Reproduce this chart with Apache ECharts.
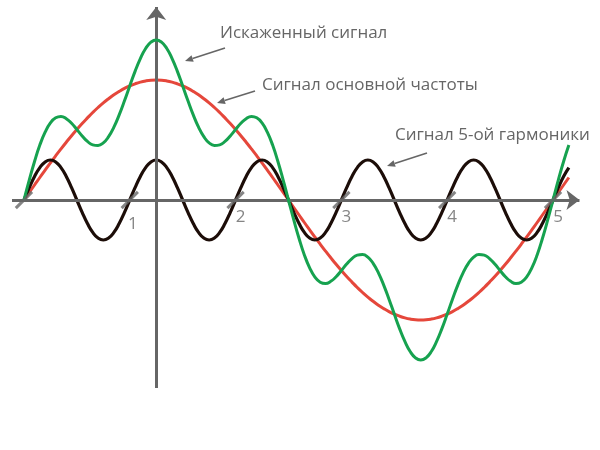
<!DOCTYPE html>
<html>
<head>
<meta charset="utf-8">
<script src="https://cdn.jsdelivr.net/npm/echarts@6/dist/echarts.min.js"></script>
<style>html,body{margin:0;padding:0;background:#fff;}#chart{width:600px;height:450px;}</style>
</head>
<body>
<div id="chart"></div>
<script>
// sample positions along the horizontal axis (units of the 5th-harmonic period)
const xs = [0,0.05,0.1,0.15,0.2,0.25,0.3,0.35,0.4,0.45,0.5,0.55,0.6,0.65,0.7,0.75,0.8,0.85,0.9,0.95,1,1.05,1.1,1.15,1.2,1.25,1.3,1.35,1.4,1.45,1.5,1.55,1.6,1.65,1.7,1.75,1.8,1.85,1.9,1.95,2,2.05,2.1,2.15,2.2,2.25,2.3,2.35,2.4,2.45,2.5,2.55,2.6,2.65,2.7,2.75,2.8,2.85,2.9,2.95,3,3.05,3.1,3.15,3.2,3.25,3.3,3.35,3.4,3.45,3.5,3.55,3.6,3.65,3.7,3.75,3.8,3.85,3.9,3.95,4,4.05,4.1,4.15,4.2,4.25,4.3,4.35,4.4,4.45,4.5,4.55,4.6,4.65,4.7,4.75,4.8,4.85,4.9,4.95,5,5.05,5.1,5.15];
// fundamental (red)
const fundamental = [0,0.075,0.150,0.225,0.298,0.371,0.442,0.511,0.578,0.643,0.705,0.765,0.821,0.875,0.925,0.971,1.013,1.052,1.086,1.116,1.141,1.162,1.179,1.191,1.198,1.200,
1.198,1.191,1.179,1.162,1.141,1.116,1.086,1.052,1.013,0.971,0.925,0.875,0.821,0.765,0.705,0.643,0.578,0.511,0.442,0.371,0.298,0.225,0.150,0.075,0,
-0.075,-0.150,-0.225,-0.298,-0.371,-0.442,-0.511,-0.578,-0.643,-0.705,-0.765,-0.821,-0.875,-0.925,-0.971,-1.013,-1.052,-1.086,-1.116,-1.141,-1.162,-1.179,-1.191,-1.198,-1.200,
-1.198,-1.191,-1.179,-1.162,-1.141,-1.116,-1.086,-1.052,-1.013,-0.971,-0.925,-0.875,-0.821,-0.765,-0.705,-0.643,-0.578,-0.511,-0.442,-0.371,-0.298,-0.225,-0.150,-0.075,0,
0.075,0.150,0.225];
// 5th harmonic (black)
const harmonic5 = [0,0.124,0.235,0.324,0.380,0.400,0.380,0.324,0.235,0.124,0,-0.124,-0.235,-0.324,-0.380,-0.400,-0.380,-0.324,-0.235,-0.124,
0,0.124,0.235,0.324,0.380,0.400,0.380,0.324,0.235,0.124,0,-0.124,-0.235,-0.324,-0.380,-0.400,-0.380,-0.324,-0.235,-0.124,
0,0.124,0.235,0.324,0.380,0.400,0.380,0.324,0.235,0.124,0,-0.124,-0.235,-0.324,-0.380,-0.400,-0.380,-0.324,-0.235,-0.124,
0,0.124,0.235,0.324,0.380,0.400,0.380,0.324,0.235,0.124,0,-0.124,-0.235,-0.324,-0.380,-0.400,-0.380,-0.324,-0.235,-0.124,
0,0.124,0.235,0.324,0.380,0.400,0.380,0.324,0.235,0.124,0,-0.124,-0.235,-0.324,-0.380,-0.400,-0.380,-0.324,-0.235,-0.124,
0,0.124,0.235,0.324];
// distorted signal (green)
const distorted = [0,0.199,0.385,0.549,0.678,0.771,0.822,0.835,0.813,0.767,0.705,0.641,0.586,0.551,0.545,0.571,0.633,0.728,0.851,0.992,1.141,1.286,1.414,1.515,1.578,1.600,
1.578,1.515,1.414,1.286,1.141,0.992,0.851,0.728,0.633,0.571,0.545,0.551,0.586,0.641,0.705,0.767,0.813,0.835,0.822,0.771,0.678,0.549,0.385,0.199,0,
-0.199,-0.385,-0.549,-0.678,-0.771,-0.822,-0.835,-0.813,-0.767,-0.705,-0.641,-0.586,-0.551,-0.545,-0.571,-0.633,-0.728,-0.851,-0.992,-1.141,-1.286,-1.414,-1.515,-1.578,-1.600,
-1.578,-1.515,-1.414,-1.286,-1.141,-0.992,-0.851,-0.728,-0.633,-0.571,-0.545,-0.551,-0.586,-0.641,-0.705,-0.767,-0.813,-0.835,-0.822,-0.771,-0.678,-0.549,-0.385,-0.199,0,
0.199,0.385,0.549];
const tickValues = [0,1,2,3,4,5];
const tickLabels = ['', '1', '2', '3', '4', '5'];
const verticalAxisX = 1.25;
const seriesNames = ['Искаженный сигнал', 'Сигнал основной частоты', 'Сигнал 5-ой гармоники'];

const GRAY = '#666666';
const FONT = '"Open Sans", "DejaVu Sans", sans-serif';
const pairs = arr => xs.map((x, i) => [x, arr[i]]);

const chart = echarts.init(document.getElementById('chart'), null, {renderer: 'canvas'});

function arrowGraphic(x1, y1, x2, y2) {
  const dx = x2 - x1, dy = y2 - y1, L = Math.hypot(dx, dy);
  const ux = dx / L, uy = dy / L, hl = 8, hw = 3.5;
  const bx = x2 - ux * hl, by = y2 - uy * hl;
  return [
    {type: 'polyline', shape: {points: [[x1, y1], [bx, by]]}, style: {stroke: GRAY, lineWidth: 1.6, fill: null}, silent: true},
    {type: 'polygon', shape: {points: [[x2, y2], [bx - uy * hw, by + ux * hw], [bx + uy * hw, by - ux * hw]]}, style: {fill: GRAY}, silent: true}
  ];
}
function label(text, x, y) {
  return {type: 'text', x: x, y: y, silent: true,
    style: {text: text, fill: GRAY, font: '17px ' + FONT, textVerticalAlign: 'middle', textAlign: 'left'}};
}

const option = {
  animation: false,
  backgroundColor: '#fff',
  grid: {left: 12, width: 570, top: 0, height: 450},
  xAxis: {type: 'value', min: -0.113, max: 5.274, show: false},
  yAxis: {type: 'value', min: -2.5, max: 2.0, show: false},
  graphic: [
    label(seriesNames[0], 220, 33),
    ...arrowGraphic(225, 48, 185, 61),
    label(seriesNames[1], 262, 85),
    ...arrowGraphic(255, 91, 217, 103),
    label(seriesNames[2], 395, 135),
    ...arrowGraphic(427, 153, 387, 166)
  ],
  series: [
    {
      type: 'line', name: 'axes', data: [], silent: true, z: 1,
      markLine: {
        silent: true, animation: false,
        symbol: ['none', 'arrow'], symbolSize: [15, 13],
        label: {show: false},
        lineStyle: {color: GRAY, width: 3, type: 'solid'},
        data: [
          [{coord: [-0.113, 0]}, {coord: [5.25, 0]}],
          [{coord: [verticalAxisX, -1.88]}, {coord: [verticalAxisX, 1.93]}]
        ]
      }
    },
    {type: 'line', name: seriesNames[1], data: pairs(fundamental), smooth: true, showSymbol: false, z: 3,
      lineStyle: {color: '#e5473b', width: 3}},
    {type: 'line', name: seriesNames[2], data: pairs(harmonic5), smooth: true, showSymbol: false, z: 4,
      lineStyle: {color: '#1c0d08', width: 3.2}},
    {type: 'line', name: seriesNames[0], data: pairs(distorted), smooth: true, showSymbol: false, z: 5,
      lineStyle: {color: '#16a24f', width: 3}},
    {type: 'scatter', name: 'ticks', z: 6, silent: true,
      symbol: 'rect', symbolSize: [3, 23], symbolRotate: -45,
      itemStyle: {color: GRAY},
      data: tickValues.map((v, i) => ({
        value: [v, 0], name: tickLabels[i],
        label: {show: tickLabels[i] !== '', position: 'inside', formatter: '{b}',
          offset: i === 1 ? [3, 24] : [5, 17], color: GRAY, fontSize: 17, fontFamily: FONT}
      }))
    }
  ]
};
chart.setOption(option);
</script>
</body>
</html>
